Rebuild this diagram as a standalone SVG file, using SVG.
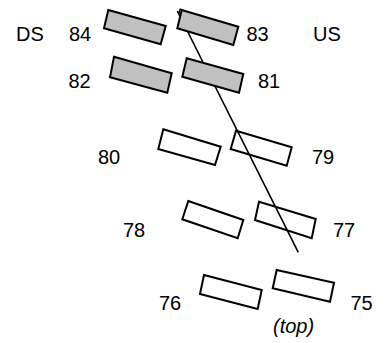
<svg xmlns="http://www.w3.org/2000/svg" width="390" height="343" viewBox="0 0 390 343">
<style>
.t{font-family:"Liberation Sans",Arial,sans-serif;font-size:20px;fill:#000}
.g{fill:#c0c0c0;stroke:#000;stroke-width:2;stroke-linejoin:miter}
.w{fill:none;stroke:#000;stroke-width:2;stroke-linejoin:miter}
.c{fill:none;stroke:#000;stroke-width:1.6}
</style>
<rect width="390" height="343" fill="#fff"/>
<g id="connectors">
<line class="c" x1="177.3" y1="11" x2="298.3" y2="252.3"/>
<line class="c" x1="180.5" y1="8.5" x2="178.5" y2="14"/>
</g>
<text class="t" x="16" y="40.5">DS</text>
<text class="t" x="313" y="40.5">US</text>
<g id="n84"><polygon class="g" points="108.3,10 165.7,26 160.7,44.3 104,28.3"/><text class="t" x="69" y="40.5">84</text></g>
<g id="n83"><polygon class="g" points="181.7,10 238.3,26.7 233.3,45 177.3,28.3"/><text class="t" x="246.5" y="40.5">83</text></g>
<g id="n82"><polygon class="g" points="114,56.7 171.7,73.3 167.3,92.7 110,77.3"/><text class="t" x="68.5" y="87.5">82</text></g>
<g id="n81"><polygon class="g" points="186.7,58.3 243.3,74 239,92.7 182.3,76.7"/><text class="t" x="258" y="87.5">81</text></g>
<g id="n80"><polygon class="w" points="163.3,129.3 220.7,146.7 215,165 158.3,149"/><text class="t" x="98" y="163.5">80</text></g>
<g id="n79"><polygon class="w" points="236,130.7 291.7,147.3 286.7,165.7 230.7,149"/><text class="t" x="312" y="163.5">79</text></g>
<g id="n78"><polygon class="w" points="188.3,201 243.3,220 237.7,238.3 182.3,219.3"/><text class="t" x="123" y="236.5">78</text></g>
<g id="n77"><polygon class="w" points="259,201.7 315.7,219 311.7,238.3 255,220"/><text class="t" x="333" y="236.5">77</text></g>
<g id="n76"><polygon class="w" points="204,275 261.7,290 257.7,309 200,294"/><text class="t" x="159" y="310">76</text></g>
<g id="n75"><polygon class="w" points="276.7,270 334,282.7 330,301.7 272.7,288.3"/><text class="t" x="350.5" y="310">75</text></g>
<text class="t" x="273" y="333" font-style="italic">(top)</text>
</svg>
